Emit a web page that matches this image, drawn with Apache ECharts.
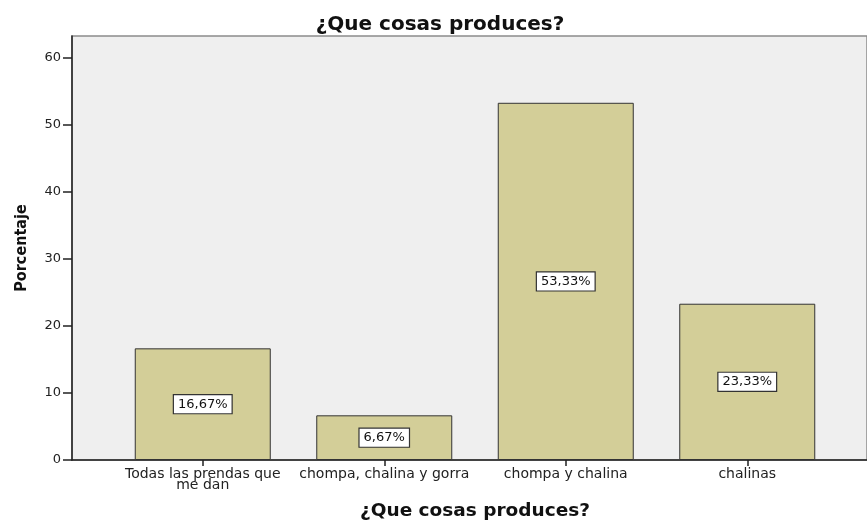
<!DOCTYPE html>
<html>
<head>
<meta charset="utf-8">
<script src="https://cdn.jsdelivr.net/npm/echarts@6/dist/echarts.min.js"></script>
<style>html,body{margin:0;padding:0;background:#fff}#c{width:867px;height:520px}</style>
</head>
<body>
<div id="c"></div>
<script>
const chartTitle = '¿Que cosas produces?';
const xAxisTitle = '¿Que cosas produces?';
const yAxisTitle = 'Porcentaje';
const categories = ['Todas las prendas que\nme dan', 'chompa, chalina y gorra', 'chompa y chalina', 'chalinas'];
const percentages = [16.67, 6.67, 53.33, 23.33];
const yTicks = [0, 10, 20, 30, 40, 50, 60];

const FONT = 'DejaVu Sans, Verdana, sans-serif';
const chart = echarts.init(document.getElementById('c'));
const yMax = 63.3;
chart.setOption({
  animation: false,
  backgroundColor: '#ffffff',
  graphic: [
    { type: 'text', x: 440, y: 25, style: { text: chartTitle, textAlign: 'center', textVerticalAlign: 'middle',
      font: 'bold 20px ' + FONT, fill: '#111' } }
  ],
  grid: [
    { left: 72, right: 0, top: 36, bottom: 60, outerBoundsMode: 'none', containLabel: false,
      show: true, backgroundColor: '#efefef', borderColor: '#8c8c8c', borderWidth: 1.5 },
    { left: 112, right: 29, top: 36, bottom: 60, outerBoundsMode: 'none', containLabel: false }
  ],
  xAxis: [
    { type: 'value', gridIndex: 0, min: 0, max: 1, axisLine: { show: true, onZero: false, lineStyle: { color: '#222', width: 1.5 } },
      axisTick: { show: false }, axisLabel: { show: false }, splitLine: { show: false } },
    { type: 'category', gridIndex: 1, data: categories,
      name: xAxisTitle, nameLocation: 'middle', nameGap: 42,
      nameTextStyle: { fontFamily: FONT, fontSize: 18.5, fontWeight: 'bold', color: '#111' },
      axisLine: { show: false }, axisTick: { show: true, alignWithLabel: true, length: 6, lineStyle: { color: '#222', width: 1.5 } },
      axisLabel: { margin: 9, fontFamily: FONT, fontSize: 14, color: '#222', lineHeight: 11, interval: 0 } }
  ],
  yAxis: [
    { type: 'value', gridIndex: 0, min: 0, max: yMax,
      name: yAxisTitle, nameLocation: 'middle', nameRotate: 90, nameGap: 42,
      nameTextStyle: { fontFamily: 'DejaVu Sans Condensed, DejaVu Sans, sans-serif', fontSize: 16, fontWeight: 'bold', color: '#111' },
      axisLine: { show: true, lineStyle: { color: '#222', width: 1.5 } },
      axisTick: { show: true, length: 9, customValues: yTicks, lineStyle: { color: '#222', width: 1.5 } },
      axisLabel: { margin: 11, customValues: yTicks, fontFamily: FONT, fontSize: 13, color: '#222' },
      splitLine: { show: false } },
    { type: 'value', gridIndex: 1, min: 0, max: yMax, show: false, splitLine: { show: false } }
  ],
  series: [{
    type: 'bar', xAxisIndex: 1, yAxisIndex: 1,
    data: percentages, barWidth: 136,
    itemStyle: { color: '#d3ce98', borderColor: '#333', borderWidth: 1 },
    label: { show: true, position: 'inside',
      formatter: p => p.value.toFixed(2).replace('.', ',') + '%',
      fontFamily: FONT, fontSize: 13, color: '#111',
      backgroundColor: '#fff', borderColor: '#333', borderWidth: 1.2, padding: [3, 4, 2, 4] }
  }]
});
</script>
</body>
</html>
